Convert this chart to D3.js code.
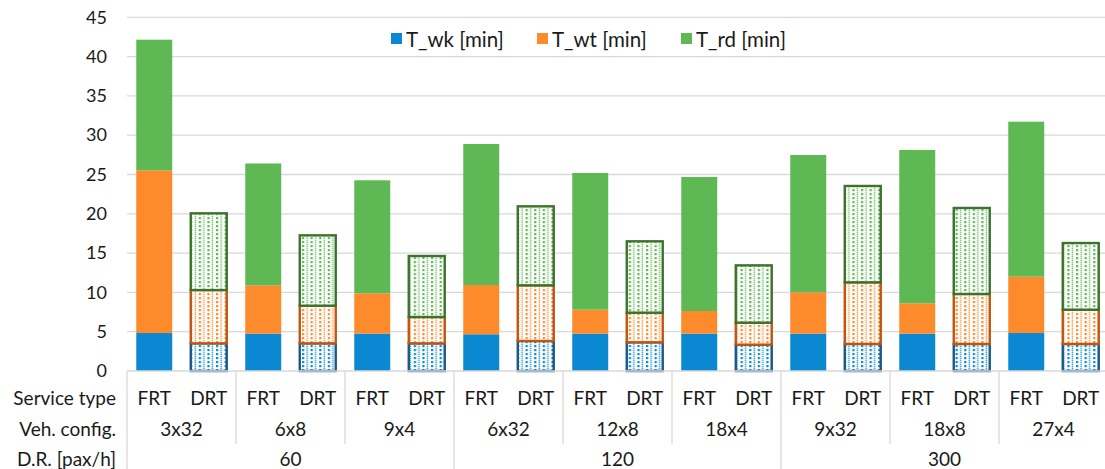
<!DOCTYPE html>
<html><head><meta charset="utf-8">
<script src="https://cdn.jsdelivr.net/npm/d3@7"></script>
<style>html,body{margin:0;padding:0;background:#fff;overflow:hidden}</style>
</head><body>
<svg id="c" width="1105" height="469"></svg>
<script>
const serviceTypes = ["FRT","DRT","FRT","DRT","FRT","DRT","FRT","DRT","FRT","DRT","FRT","DRT","FRT","DRT","FRT","DRT","FRT","DRT"];
const vehConfigs = ["3x32","6x8","9x4","6x32","12x8","18x4","9x32","18x8","27x4"];
const demandRates = ["60","120","300"];
const tWk = [4.83,3.52,4.75,3.52,4.75,3.52,4.67,3.82,4.75,3.65,4.75,3.35,4.75,3.44,4.75,3.44,4.83,3.44];
const tWt = [20.7,6.78,6.15,4.79,5.13,3.35,6.27,7.08,3.05,3.77,2.88,2.8,5.26,7.84,3.86,6.36,7.17,4.36];
const tRd = [16.62,9.76,15.5,8.95,14.38,7.76,17.94,10.05,17.39,9.08,17.05,7.29,17.47,12.26,19.51,10.94,19.72,8.48];
const seriesNames = ["T_wk [min]","T_wt [min]","T_rd [min]"];
const yTicks = [0,5,10,15,20,25,30,35,40,45];

const fills = ["#0a88d2","#fd8a2b","#5eb853"];
const borders = ["#1b5888","#c0550e","#3d722d"];
const font = "Lato, 'Open Sans', sans-serif";

const svg = d3.select("#c");
const L = 127, R = 1108, T = 17.3, B = 371;
const idx = d3.range(serviceTypes.length);
const x = d3.scaleBand().domain(idx).range([L, R]).paddingInner(0.34).paddingOuter(0.17);
const xs = d3.scaleBand().domain(idx).range([L, R]);
const y = d3.scaleLinear().domain([0,45]).range([B, T]);

// patterns
const defs = svg.append("defs");
fills.forEach((c,i)=>{
  const p = defs.append("pattern").attr("id","pat"+i).attr("patternUnits","userSpaceOnUse")
    .attr("width",8.6).attr("height",4);
  p.append("rect").attr("width",8.6).attr("height",4).attr("fill","#fff");
  p.append("rect").attr("x",1).attr("y",1).attr("width",2.2).attr("height",2.2).attr("fill",c);
  p.append("rect").attr("x",5.4).attr("y",0).attr("width",1.4).attr("height",1.4).attr("fill",c).attr("opacity",0.85);
  p.append("rect").attr("x",5.4).attr("y",2).attr("width",1.4).attr("height",1.4).attr("fill",c).attr("opacity",0.85);
});

// gridlines
svg.append("g").selectAll("line").data(yTicks.filter(d=>d>0)).join("line")
  .attr("x1",L).attr("x2",1105).attr("y1",d=>y(d)).attr("y2",d=>y(d))
  .attr("stroke","#d9d9d9").attr("stroke-width",1.3);

// y axis labels
const yAxis = d3.axisLeft(y).tickValues(yTicks).tickSize(0).tickPadding(0);
const ya = svg.append("g").attr("transform","translate(107,0)").call(yAxis);
ya.select(".domain").remove();
ya.selectAll("text").attr("font-family",font).attr("font-size",18).attr("fill","#1a1a1a");

// stacks
const rows = idx.map(i=>({i, a:tWk[i], b:tWt[i], c:tRd[i]}));
const stack = d3.stack().keys(["a","b","c"])(rows);
stack.forEach((layer,k)=>{
  svg.append("g").selectAll("rect").data(layer).join("rect")
    .attr("x",d=>x(d.data.i)).attr("width",x.bandwidth())
    .attr("y",d=>y(d[1])).attr("height",d=>y(d[0])-y(d[1]))
    .attr("fill",d=>serviceTypes[d.data.i]==="DRT" ? `url(#pat${k})` : fills[k])
    .attr("stroke",d=>serviceTypes[d.data.i]==="DRT" ? borders[k] : "none")
    .attr("stroke-width",2.4);
});

// x axis line
svg.append("line").attr("x1",L).attr("x2",1105).attr("y1",B).attr("y2",B)
  .attr("stroke","#d9d9d9").attr("stroke-width",1.3);

// group separators
const sepG = svg.append("g").attr("stroke","#d9d9d9").attr("stroke-width",1.3);
vehConfigs.forEach((v,g)=>{
  const xx = xs(g*2);
  const major = g%3===0;
  sepG.append("line").attr("x1",xx).attr("x2",xx).attr("y1",B).attr("y2",major?469:444);
});

const tx = svg.append("g").attr("font-family",font).attr("font-size",19).attr("fill","#1a1a1a")
  .attr("text-anchor","middle").attr("dominant-baseline","central");
serviceTypes.forEach((s,i)=>{
  tx.append("text").attr("x",xs(i)+xs.bandwidth()/2).attr("y",397).text(s);
});
vehConfigs.forEach((v,g)=>{
  tx.append("text").attr("x",xs(g*2)+xs.bandwidth()).attr("y",428).text(v);
});
demandRates.forEach((d,g)=>{
  tx.append("text").attr("x",xs(g*6)+xs.bandwidth()*3).attr("y",458).text(d);
});
const rowLabels = ["Service type","Veh. config.","D.R. [pax/h]"];
[397,428,458].forEach((yy,k)=>{
  tx.append("text").attr("x",116).attr("y",yy).attr("text-anchor","end").text(rowLabels[k]);
});

// legend
const legX = [391,537,681];
const lg = svg.append("g");
seriesNames.forEach((n,k)=>{
  lg.append("rect").attr("x",legX[k]).attr("y",33).attr("width",11).attr("height",11).attr("fill",fills[k]);
  lg.append("text").attr("x",legX[k]+15).attr("y",39).attr("dominant-baseline","central")
    .attr("font-family",font).attr("font-size",20.5).attr("fill","#1a1a1a").text(n);
});
</script>
</body></html>
